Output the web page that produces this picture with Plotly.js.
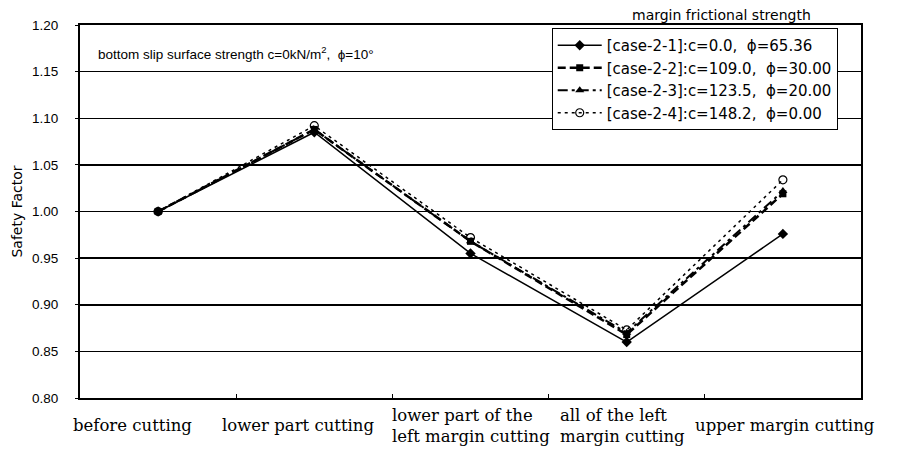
<!DOCTYPE html>
<html><head><meta charset="utf-8">
<script src="https://cdn.plot.ly/plotly-3.0.1.min.js"></script>
<style>body{margin:0;background:#fff}#c{width:901px;height:454px}</style>
</head><body><div id="c"></div>
<script>
const categories = ["before cutting","lower part cutting","lower part of the<br>left margin cutting","all of the left<br>margin cutting","upper margin cutting"];
const case21 = [1.000, 1.085, 0.955, 0.860, 0.976];
const case22 = [1.000, 1.088, 0.968, 0.868, 1.019];
const case23 = [1.000, 1.088, 0.968, 0.870, 1.022];
const case24 = [1.000, 1.092, 0.972, 0.873, 1.034];
const names = ["[case-2-1]:c=0.0,  ϕ=65.36","[case-2-2]:c=109.0,  ϕ=30.00","[case-2-3]:c=123.5,  ϕ=20.00","[case-2-4]:c=148.2,  ϕ=0.00"];
const yTicks = [0.80,0.85,0.90,0.95,1.00,1.05,1.10,1.15,1.20];

const traces = [
 {x:categories,y:case21,name:names[0],mode:"lines+markers",line:{color:"#000",width:1.5,dash:"solid"},marker:{symbol:"diamond",size:8,color:"#000"}},
 {x:categories,y:case22,name:names[1],mode:"lines+markers",line:{color:"#000",width:2.5,dash:"8px,4px"},marker:{symbol:"square",size:7,color:"#000"}},
 {x:categories,y:case23,name:names[2],mode:"lines+markers",line:{color:"#000",width:2,dash:"10px,4px,3px,4px"},marker:{symbol:"triangle-up",size:8,color:"#000"}},
 {x:categories,y:case24,name:names[3],mode:"lines+markers",line:{color:"#000",width:1.5,dash:"3px,4px"},marker:{symbol:"circle-open",size:8,color:"#000",line:{width:1.2,color:"#000"}}}
];

const labelShift = [-26, -16, 0, -4, 2];
const annotations = categories.map((c,i)=>({x:c,y:-0.075,xref:"x",yref:"paper",xshift:labelShift[i],text:c,showarrow:false,yanchor:"middle",xanchor:"center",align:"left",font:{family:"DejaVu Serif, serif",size:16.5,color:"#000"}}));
annotations.push({x:0.02,y:0.925,xref:"paper",yref:"paper",xanchor:"left",yanchor:"middle",showarrow:false,text:"bottom slip surface strength c=0kN/m<sup>2</sup>,  ϕ=10°",font:{family:"Liberation Sans, Arial",size:13.5,color:"#000"}});
annotations.push({x:0.821,y:1.0,xref:"paper",yref:"paper",xanchor:"center",yanchor:"bottom",showarrow:false,text:"margin frictional strength",font:{family:"DejaVu Sans",size:14,color:"#000"}});

const layout = {
 width:901,height:454,
 margin:{l:80,r:40,t:25,b:56},
 paper_bgcolor:"#fff",plot_bgcolor:"#fff",
 font:{family:"Liberation Sans, Arial",color:"#000"},
 showlegend:true,
 legend:{x:0.604,y:0.992,xanchor:"left",yanchor:"top",bgcolor:"#fff",bordercolor:"#000",borderwidth:1,font:{family:"DejaVu Sans",size:15,color:"#000"},tracegroupgap:0,itemwidth:44},
 xaxis:{type:"category",showticklabels:false,showline:true,mirror:true,linecolor:"#000",linewidth:2,ticks:"inside",tickson:"boundaries",ticklen:4,tickcolor:"#000",showgrid:false,zeroline:false,range:[-0.5,4.5]},
 yaxis:{range:[0.80,1.20],tickvals:yTicks,ticktext:yTicks.map(v=>v.toFixed(2)),showline:true,mirror:true,linecolor:"#000",linewidth:2,showgrid:true,gridcolor:"#000",gridwidth:1.5,ticks:"outside",ticklen:3,tickcolor:"#000",ticklabelstandoff:14,tickfont:{size:13.5,color:"#000"},zeroline:false,
   title:{text:"Safety Factor",font:{family:"DejaVu Sans",size:14,color:"#000"},standoff:6}},
 annotations:annotations
};
Plotly.newPlot("c",traces,layout,{displayModeBar:false,staticPlot:true});
</script></body></html>
